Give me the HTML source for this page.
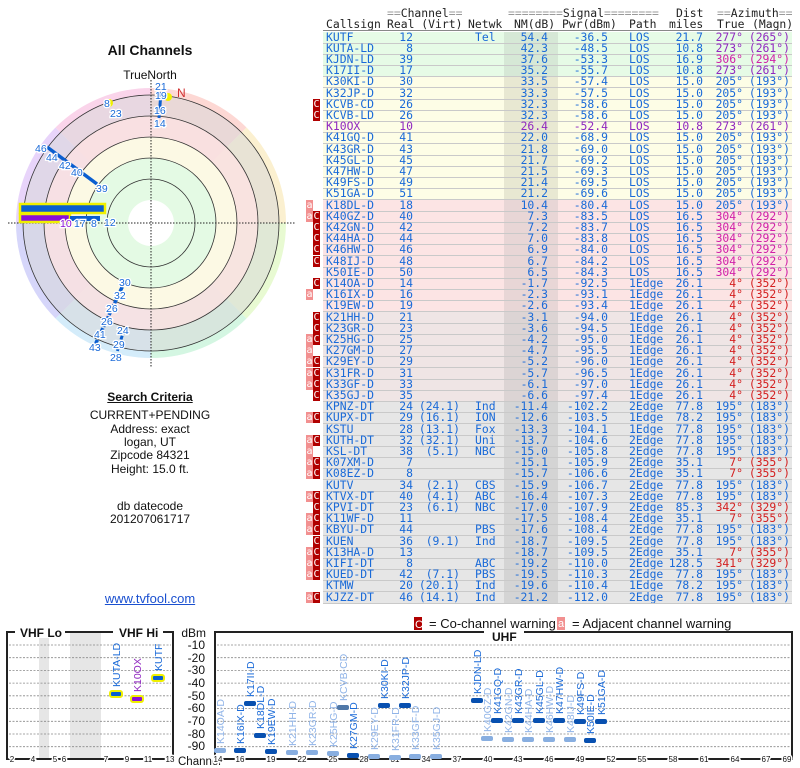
<!DOCTYPE html>
<html><head><meta charset="utf-8"><style>
body{margin:0;width:800px;height:768px;background:#fff;position:relative;overflow:hidden;font-family:"Liberation Sans",sans-serif}
.abs{position:absolute}
.band{position:absolute;left:323px;width:469px}
.r{position:absolute;left:0;width:800px;height:11.2px;font:11.4px/11.4px "DejaVu Sans Mono",monospace;color:#1a6ad8}
.r::after{content:"";position:absolute;left:323px;width:469px;bottom:-1px;height:1px;background:#c9c9c9}
.r span{position:absolute;top:0;white-space:pre}
.a{left:326px}.b{right:387px}.v{right:340px}.n{left:475px}.m{right:252px}.p{right:192px}.q{left:629px}.d{right:97px}.t{right:57px}.g{right:10px}
.r span.C{left:313px;width:7px;height:11px;background:#b00000;color:#fff;font-size:10px;text-align:center;top:0}
.r span.A{left:306px;width:7px;height:11px;background:#f29090;color:#fff;font-size:10px;text-align:center;top:0}
.pu{color:#9028c0}.mg{color:#d020a8}.rd{color:#d42020}
.h{position:absolute;font:11.4px/11.4px "DejaVu Sans Mono",monospace;color:#222;white-space:pre}
.h i{color:#999;font-style:normal}
.lt{position:absolute;left:0;width:300px;text-align:center;font-size:12px;color:#111}
</style></head><body>
<svg class="abs" style="left:0;top:0" width="800" height="768" xmlns="http://www.w3.org/2000/svg">
<g>
<path d="M151,223 L151,88 A135,135 0 0 1 246.5,127.5 Z" fill="#fdd8d4"/>
<path d="M151,223 L246.5,127.5 A135,135 0 0 1 286,223 Z" fill="#fbf0d0"/>
<path d="M151,223 L286,223 A135,135 0 0 1 246.5,318.5 Z" fill="#e8fad2"/>
<path d="M151,223 L246.5,318.5 A135,135 0 0 1 151,358 Z" fill="#d4f6e2"/>
<path d="M151,223 L151,358 A135,135 0 0 1 55.5,318.5 Z" fill="#d4ecfa"/>
<path d="M151,223 L55.5,318.5 A135,135 0 0 1 16,223 Z" fill="#d6d6fa"/>
<path d="M151,223 L16,223 A135,135 0 0 1 55.5,127.5 Z" fill="#e8d4fa"/>
<path d="M151,223 L55.5,127.5 A135,135 0 0 1 151,88 Z" fill="#fad4ea"/>
<circle cx="151" cy="223" r="128" fill="#d8d8d8" fill-opacity="0.55" stroke="#333" stroke-width="0.8"/>
<circle cx="151" cy="223" r="107" fill="#fde2e2" fill-opacity="0.8" stroke="#333" stroke-width="0.8"/>
<circle cx="151" cy="223" r="86" fill="#fdfde4" fill-opacity="0.85" stroke="#333" stroke-width="0.8"/>
<circle cx="151" cy="223" r="65" fill="#e4fae4" stroke="#333" stroke-width="0.8"/>
<circle cx="151" cy="223" r="44" fill="#e4fae4" stroke="#333" stroke-width="0.8"/>
<circle cx="151" cy="223" r="23" fill="#fff"/>
<line x1="8" y1="223" x2="296" y2="223" stroke="#222" stroke-width="1" stroke-dasharray="1.5,1.5"/>
<line x1="151" y1="80" x2="151" y2="368" stroke="#222" stroke-width="1" stroke-dasharray="1.5,1.5"/>
<rect x="20" y="204" width="85" height="9" fill="#0a5ed0" stroke="#f0f000" stroke-width="2.5"/>
<rect x="20" y="214" width="50" height="8" fill="#8a10d8" stroke="#f0f000" stroke-width="2.5"/>
<rect x="70" y="216" width="30" height="5" fill="#0a5ed0"/>
<line x1="47" y1="147" x2="97" y2="184" stroke="#0a5ed0" stroke-width="3.5"/>
<line x1="125" y1="281" x2="95" y2="345" stroke="#0a5ed0" stroke-width="3.5" stroke-dasharray="5,1.5"/>
<line x1="124" y1="330" x2="117" y2="352" stroke="#0a5ed0" stroke-width="3" stroke-dasharray="4,2"/>
<line x1="161" y1="92" x2="159" y2="118" stroke="#0a5ed0" stroke-width="3"/>
<circle cx="168" cy="97" r="4" fill="#f0f000"/>
<circle cx="109" cy="103" r="4" fill="#f0f000"/>
<g font-family="Liberation Sans,sans-serif" font-size="10.5" fill="#1a6ad8" stroke="#fff" stroke-width="2.5" paint-order="stroke">
<text x="155" y="90">21</text><text x="155" y="99">19</text><text x="154" y="114">16</text><text x="154" y="127">14</text>
<text x="104" y="107">8</text><text x="110" y="117">23</text>
<text x="35" y="152">46</text><text x="46" y="161">44</text><text x="59" y="169">42</text><text x="71" y="176">40</text><text x="96" y="192">39</text>
<text x="104" y="226">12</text><text x="91" y="227">8</text><text x="74" y="227">17</text><text x="60" y="227" fill="#8a10d8">10</text>
<text x="119" y="286">30</text><text x="114" y="299">32</text><text x="106" y="312">26</text><text x="101" y="325">26</text><text x="94" y="338">41</text><text x="89" y="351">43</text>
<text x="117" y="334">24</text><text x="113" y="348">29</text><text x="110" y="361">28</text>
</g>
<text x="177" y="97" font-family="Liberation Sans,sans-serif" font-size="12" fill="#d03030">N</text>
</g>
<g font-family="Liberation Sans,sans-serif">
<rect x="39" y="632" width="10" height="126" fill="#e6e6e6"/>
<rect x="70" y="632" width="31" height="126" fill="#e6e6e6"/>
<g stroke="#888" stroke-width="0.8" stroke-dasharray="2,1.5">
<path d="M9 645H171M9 657.7H171M9 670.4H171M9 683.1H171M9 695.8H171M9 708.6H171M9 721.3H171M9 734H171M9 746.7H171"/>
<path d="M217 645H790M217 657.7H790M217 670.4H790M217 683.1H790M217 695.8H790M217 708.6H790M217 721.3H790M217 734H790M217 746.7H790"/>
</g>
<rect x="7" y="632" width="166" height="127" fill="none" stroke="#222" stroke-width="2"/>
<rect x="215" y="632" width="577" height="127" fill="none" stroke="#222" stroke-width="2"/>
<rect x="15" y="626" width="50" height="12" fill="#fff"/><rect x="113" y="626" width="50" height="12" fill="#fff"/><rect x="484" y="626" width="40" height="12" fill="#fff"/>
<g font-size="12" font-weight="bold" fill="#111"><text x="20" y="637">VHF Lo</text><text x="119" y="637">VHF Hi</text><text x="492" y="641">UHF</text></g>
<g font-size="12" fill="#111" text-anchor="end"><text x="206" y="637">dBm</text><text x="205" y="649">-10</text><text x="205" y="662">-20</text><text x="205" y="674">-30</text><text x="205" y="687">-40</text><text x="205" y="700">-50</text><text x="205" y="712">-60</text><text x="205" y="725">-70</text><text x="205" y="738">-80</text><text x="205" y="750">-90</text></g>
<text x="178" y="765" font-size="11.5" fill="#111">Channel</text>
<g font-size="8" fill="#111" text-anchor="middle" stroke="#fff" stroke-width="3" paint-order="stroke">
<text x="12" y="762">2</text><text x="33" y="762">4</text><text x="55" y="762">5</text><text x="64" y="762">6</text><text x="106" y="762">7</text><text x="127" y="762">9</text><text x="148" y="762">11</text><text x="170" y="762">13</text>
<text x="218" y="762">14</text><text x="240" y="762">16</text><text x="271" y="762">19</text><text x="302" y="762">22</text><text x="333" y="762">25</text><text x="364" y="762">28</text><text x="395" y="762">31</text><text x="426" y="762">34</text><text x="457" y="762">37</text><text x="488" y="762">40</text><text x="518" y="762">43</text><text x="549" y="762">46</text><text x="580" y="762">49</text><text x="611" y="762">52</text><text x="642" y="762">55</text><text x="673" y="762">58</text><text x="704" y="762">61</text><text x="735" y="762">64</text><text x="766" y="762">67</text><text x="787" y="762">69</text>
</g>
<rect x="110" y="691" width="12" height="6" rx="2" fill="#0a5ed0" stroke="#f0f000" stroke-width="2"/>
<rect x="131" y="696" width="12" height="6" rx="2" fill="#8a10d8" stroke="#f0f000" stroke-width="2"/>
<rect x="152" y="675" width="12" height="6" rx="2" fill="#0a5ed0" stroke="#f0f000" stroke-width="2"/>
<g font-size="10.5">
<text transform="translate(120,687) rotate(-90)" fill="#1a6ad8">KUTA-LD</text>
<text transform="translate(141,692) rotate(-90)" fill="#9028c0">K10OX</text>
<text transform="translate(162,671) rotate(-90)" fill="#1a6ad8">KUTF</text>
</g>
<g fill="#0850b0">
<rect x="234" y="748" width="12" height="5" rx="2"/><rect x="244" y="701" width="12" height="5" rx="2"/><rect x="254" y="733" width="12" height="5" rx="2"/><rect x="265" y="749" width="12" height="5" rx="2"/><rect x="347" y="753" width="12" height="5" rx="2"/><rect x="378" y="703" width="12" height="5" rx="2"/><rect x="399" y="703" width="12" height="5" rx="2"/><rect x="471" y="698" width="12" height="5" rx="2"/><rect x="491" y="718" width="12" height="5" rx="2"/><rect x="512" y="718" width="12" height="5" rx="2"/><rect x="533" y="718" width="12" height="5" rx="2"/><rect x="553" y="718" width="12" height="5" rx="2"/><rect x="574" y="719" width="12" height="5" rx="2"/><rect x="584" y="738" width="12" height="5" rx="2"/><rect x="595" y="719" width="12" height="5" rx="2"/>
<rect x="337" y="705" width="12" height="5" rx="2" fill="#5078a8"/>
</g>
<g fill="#88aee0">
<rect x="214" y="748" width="12" height="5" rx="2"/><rect x="286" y="750" width="12" height="5" rx="2"/><rect x="306" y="750" width="12" height="5" rx="2"/><rect x="327" y="751" width="12" height="5" rx="2"/><rect x="368" y="754" width="12" height="5" rx="2"/><rect x="389" y="755" width="12" height="5" rx="2"/><rect x="409" y="754" width="12" height="5" rx="2"/><rect x="430" y="754" width="12" height="5" rx="2"/><rect x="481" y="736" width="12" height="5" rx="2"/><rect x="502" y="737" width="12" height="5" rx="2"/><rect x="522" y="737" width="12" height="5" rx="2"/><rect x="543" y="737" width="12" height="5" rx="2"/><rect x="564" y="737" width="12" height="5" rx="2"/>
</g>
<g font-size="10.5" fill="#1a6ad8">
<text transform="translate(244,744) rotate(-90)">K16IX-D</text>
<text transform="translate(254,697) rotate(-90)">K17II-D</text>
<text transform="translate(264,729) rotate(-90)">K18DL-D</text>
<text transform="translate(275,745) rotate(-90)">K19EW-D</text>
<text transform="translate(357,749) rotate(-90)">K27GM-D</text>
<text transform="translate(388,699) rotate(-90)">K30KI-D</text>
<text transform="translate(409,699) rotate(-90)">K32JP-D</text>
<text transform="translate(481,694) rotate(-90)">KJDN-LD</text>
<text transform="translate(501,714) rotate(-90)">K41GQ-D</text>
<text transform="translate(522,714) rotate(-90)">K43GR-D</text>
<text transform="translate(543,714) rotate(-90)">K45GL-D</text>
<text transform="translate(563,714) rotate(-90)">K47HW-D</text>
<text transform="translate(584,715) rotate(-90)">K49FS-D</text>
<text transform="translate(594,734) rotate(-90)">K50IE-D</text>
<text transform="translate(605,715) rotate(-90)">K51GA-D</text>
</g>
<g font-size="10.5" fill="#90b4e8">
<text transform="translate(224,744) rotate(-90)">K14OA-D</text>
<text transform="translate(296,746) rotate(-90)">K21HH-D</text>
<text transform="translate(316,746) rotate(-90)">K23GR-D</text>
<text transform="translate(337,747) rotate(-90)">K25HG-D</text>
<text transform="translate(347,701) rotate(-90)">KCVB-CD</text>
<text transform="translate(378,750) rotate(-90)">K29EY-D</text>
<text transform="translate(399,751) rotate(-90)">K31FR-D</text>
<text transform="translate(419,750) rotate(-90)">K33GF-D</text>
<text transform="translate(440,750) rotate(-90)">K35GJ-D</text>
<text transform="translate(491,732) rotate(-90)">K40GZ-D</text>
<text transform="translate(512,733) rotate(-90)">K42GN-D</text>
<text transform="translate(532,733) rotate(-90)">K44HA-D</text>
<text transform="translate(553,733) rotate(-90)">K46HW-D</text>
<text transform="translate(574,733) rotate(-90)">K48IJ-D</text>
</g>
<rect x="414" y="617" width="8" height="13" fill="#b00000"/><text x="415" y="628" font-size="11" fill="#fff">C</text>
<text x="429" y="628" font-size="13" fill="#111">= Co-channel warning</text>
<rect x="557" y="617" width="8" height="13" fill="#f29090"/><text x="558" y="627" font-size="11" fill="#fff">a</text>
<text x="572" y="628" font-size="13" fill="#111">= Adjacent channel warning</text>
</g>
</svg>

<div class="lt" style="top:42px;font-size:14px;font-weight:bold">All Channels</div>
<div class="lt" style="top:68px">TrueNorth</div>
<div class="lt" style="top:390px;font-weight:bold;text-decoration:underline">Search Criteria</div>
<div class="lt" style="top:408px">CURRENT+PENDING</div>
<div class="lt" style="top:422px">Address: exact</div>
<div class="lt" style="top:435px">logan, UT</div>
<div class="lt" style="top:448px">Zipcode 84321</div>
<div class="lt" style="top:462px">Height: 15.0 ft.</div>
<div class="lt" style="top:499px">db datecode</div>
<div class="lt" style="top:512px">201207061717</div>
<div class="lt" style="top:591px;color:#1a50d0;text-decoration:underline;font-size:13px">www.tvfool.com</div>

<div class="band" style="top:31.5px;height:44.8px;background:#e6fbe6"></div>
<div class="band" style="top:76.3px;height:123.2px;background:#fdfde6"></div>
<div class="band" style="top:199.5px;height:112px;background:#fce4e4"></div>
<div class="band" style="top:311.5px;height:89.6px;background:#efe5e5"></div>
<div class="band" style="top:401.1px;height:201.6px;background:#e6e6e6"></div>
<div class="abs" style="left:504px;width:54px;top:31.5px;height:44.8px;background:#d6e8d6"></div>
<div class="abs" style="left:504px;width:54px;top:76.3px;height:123.2px;background:#e8e8d2"></div>
<div class="abs" style="left:504px;width:54px;top:199.5px;height:112px;background:#e8d6d6"></div>
<div class="abs" style="left:504px;width:54px;top:311.5px;height:89.6px;background:#dcd4d4"></div>
<div class="abs" style="left:504px;width:54px;top:401.1px;height:201.6px;background:#d4d4d4"></div>

<div class="h" style="left:387px;top:8px"><i>==</i>Channel<i>==</i></div>
<div class="h" style="left:508px;top:8px"><i>========</i>Signal<i>========</i></div>
<div class="h" style="left:676px;top:8px">Dist</div>
<div class="h" style="left:717px;top:8px"><i>==</i>Azimuth<i>==</i></div>
<div class="h" style="left:326px;top:19px">Callsign</div>
<div class="h" style="left:387px;top:19px">Real (Virt)</div>
<div class="h" style="left:468px;top:19px">Netwk</div>
<div class="h" style="left:514px;top:19px">NM(dB)</div>
<div class="h" style="left:562px;top:19px">Pwr(dBm)</div>
<div class="h" style="left:629px;top:19px">Path</div>
<div class="h" style="left:669px;top:19px">miles</div>
<div class="h" style="left:717px;top:19px">True</div>
<div class="h" style="left:752px;top:19px">(Magn)</div>
<div class="abs" style="left:323px;top:30px;width:469px;height:1px;background:#888"></div>

<div class="r" style="top:31.5px"><span class="a">KUTF</span><span class="b">12</span><span class="n">Tel</span><span class="m">54.4</span><span class="p">-36.5</span><span class="q">LOS</span><span class="d">21.7</span><span class="t pu">277°</span><span class="g pu">(265°)</span></div>
<div class="r" style="top:42.7px"><span class="a">KUTA-LD</span><span class="b">8</span><span class="m">42.3</span><span class="p">-48.5</span><span class="q">LOS</span><span class="d">10.8</span><span class="t pu">273°</span><span class="g pu">(261°)</span></div>
<div class="r" style="top:53.9px"><span class="a">KJDN-LD</span><span class="b">39</span><span class="m">37.6</span><span class="p">-53.3</span><span class="q">LOS</span><span class="d">16.9</span><span class="t mg">306°</span><span class="g mg">(294°)</span></div>
<div class="r" style="top:65.1px"><span class="a">K17II-D</span><span class="b">17</span><span class="m">35.2</span><span class="p">-55.7</span><span class="q">LOS</span><span class="d">10.8</span><span class="t pu">273°</span><span class="g pu">(261°)</span></div>
<div class="r" style="top:76.3px"><span class="a">K30KI-D</span><span class="b">30</span><span class="m">33.5</span><span class="p">-57.4</span><span class="q">LOS</span><span class="d">15.0</span><span class="t">205°</span><span class="g">(193°)</span></div>
<div class="r" style="top:87.5px"><span class="a">K32JP-D</span><span class="b">32</span><span class="m">33.3</span><span class="p">-57.5</span><span class="q">LOS</span><span class="d">15.0</span><span class="t">205°</span><span class="g">(193°)</span></div>
<div class="r" style="top:98.7px"><span class="C">C</span><span class="a">KCVB-CD</span><span class="b">26</span><span class="m">32.3</span><span class="p">-58.6</span><span class="q">LOS</span><span class="d">15.0</span><span class="t">205°</span><span class="g">(193°)</span></div>
<div class="r" style="top:109.9px"><span class="C">C</span><span class="a">KCVB-LD</span><span class="b">26</span><span class="m">32.3</span><span class="p">-58.6</span><span class="q">LOS</span><span class="d">15.0</span><span class="t">205°</span><span class="g">(193°)</span></div>
<div class="r pu" style="top:121.1px"><span class="a">K10OX</span><span class="b">10</span><span class="m">26.4</span><span class="p">-52.4</span><span class="q">LOS</span><span class="d">10.8</span><span class="t">273°</span><span class="g">(261°)</span></div>
<div class="r" style="top:132.3px"><span class="a">K41GQ-D</span><span class="b">41</span><span class="m">22.0</span><span class="p">-68.9</span><span class="q">LOS</span><span class="d">15.0</span><span class="t">205°</span><span class="g">(193°)</span></div>
<div class="r" style="top:143.5px"><span class="a">K43GR-D</span><span class="b">43</span><span class="m">21.8</span><span class="p">-69.0</span><span class="q">LOS</span><span class="d">15.0</span><span class="t">205°</span><span class="g">(193°)</span></div>
<div class="r" style="top:154.7px"><span class="a">K45GL-D</span><span class="b">45</span><span class="m">21.7</span><span class="p">-69.2</span><span class="q">LOS</span><span class="d">15.0</span><span class="t">205°</span><span class="g">(193°)</span></div>
<div class="r" style="top:165.9px"><span class="a">K47HW-D</span><span class="b">47</span><span class="m">21.5</span><span class="p">-69.3</span><span class="q">LOS</span><span class="d">15.0</span><span class="t">205°</span><span class="g">(193°)</span></div>
<div class="r" style="top:177.1px"><span class="a">K49FS-D</span><span class="b">49</span><span class="m">21.4</span><span class="p">-69.5</span><span class="q">LOS</span><span class="d">15.0</span><span class="t">205°</span><span class="g">(193°)</span></div>
<div class="r" style="top:188.3px"><span class="a">K51GA-D</span><span class="b">51</span><span class="m">21.2</span><span class="p">-69.6</span><span class="q">LOS</span><span class="d">15.0</span><span class="t">205°</span><span class="g">(193°)</span></div>
<div class="r" style="top:199.5px"><span class="A">a</span><span class="a">K18DL-D</span><span class="b">18</span><span class="m">10.4</span><span class="p">-80.4</span><span class="q">LOS</span><span class="d">15.0</span><span class="t">205°</span><span class="g">(193°)</span></div>
<div class="r" style="top:210.7px"><span class="A">a</span><span class="C">C</span><span class="a">K40GZ-D</span><span class="b">40</span><span class="m">7.3</span><span class="p">-83.5</span><span class="q">LOS</span><span class="d">16.5</span><span class="t mg">304°</span><span class="g mg">(292°)</span></div>
<div class="r" style="top:221.9px"><span class="C">C</span><span class="a">K42GN-D</span><span class="b">42</span><span class="m">7.2</span><span class="p">-83.7</span><span class="q">LOS</span><span class="d">16.5</span><span class="t mg">304°</span><span class="g mg">(292°)</span></div>
<div class="r" style="top:233.1px"><span class="C">C</span><span class="a">K44HA-D</span><span class="b">44</span><span class="m">7.0</span><span class="p">-83.8</span><span class="q">LOS</span><span class="d">16.5</span><span class="t mg">304°</span><span class="g mg">(292°)</span></div>
<div class="r" style="top:244.3px"><span class="C">C</span><span class="a">K46HW-D</span><span class="b">46</span><span class="m">6.9</span><span class="p">-84.0</span><span class="q">LOS</span><span class="d">16.5</span><span class="t mg">304°</span><span class="g mg">(292°)</span></div>
<div class="r" style="top:255.5px"><span class="C">C</span><span class="a">K48IJ-D</span><span class="b">48</span><span class="m">6.7</span><span class="p">-84.2</span><span class="q">LOS</span><span class="d">16.5</span><span class="t mg">304°</span><span class="g mg">(292°)</span></div>
<div class="r" style="top:266.7px"><span class="a">K50IE-D</span><span class="b">50</span><span class="m">6.5</span><span class="p">-84.3</span><span class="q">LOS</span><span class="d">16.5</span><span class="t mg">304°</span><span class="g mg">(292°)</span></div>
<div class="r" style="top:277.9px"><span class="C">C</span><span class="a">K14OA-D</span><span class="b">14</span><span class="m">-1.7</span><span class="p">-92.5</span><span class="q">1Edge</span><span class="d">26.1</span><span class="t rd">4°</span><span class="g rd">(352°)</span></div>
<div class="r" style="top:289.1px"><span class="A">a</span><span class="a">K16IX-D</span><span class="b">16</span><span class="m">-2.3</span><span class="p">-93.1</span><span class="q">1Edge</span><span class="d">26.1</span><span class="t rd">4°</span><span class="g rd">(352°)</span></div>
<div class="r" style="top:300.3px"><span class="a">K19EW-D</span><span class="b">19</span><span class="m">-2.6</span><span class="p">-93.4</span><span class="q">1Edge</span><span class="d">26.1</span><span class="t rd">4°</span><span class="g rd">(352°)</span></div>
<div class="r" style="top:311.5px"><span class="C">C</span><span class="a">K21HH-D</span><span class="b">21</span><span class="m">-3.1</span><span class="p">-94.0</span><span class="q">1Edge</span><span class="d">26.1</span><span class="t rd">4°</span><span class="g rd">(352°)</span></div>
<div class="r" style="top:322.7px"><span class="C">C</span><span class="a">K23GR-D</span><span class="b">23</span><span class="m">-3.6</span><span class="p">-94.5</span><span class="q">1Edge</span><span class="d">26.1</span><span class="t rd">4°</span><span class="g rd">(352°)</span></div>
<div class="r" style="top:333.9px"><span class="A">a</span><span class="C">C</span><span class="a">K25HG-D</span><span class="b">25</span><span class="m">-4.2</span><span class="p">-95.0</span><span class="q">1Edge</span><span class="d">26.1</span><span class="t rd">4°</span><span class="g rd">(352°)</span></div>
<div class="r" style="top:345.1px"><span class="A">a</span><span class="a">K27GM-D</span><span class="b">27</span><span class="m">-4.7</span><span class="p">-95.5</span><span class="q">1Edge</span><span class="d">26.1</span><span class="t rd">4°</span><span class="g rd">(352°)</span></div>
<div class="r" style="top:356.3px"><span class="A">a</span><span class="C">C</span><span class="a">K29EY-D</span><span class="b">29</span><span class="m">-5.2</span><span class="p">-96.0</span><span class="q">1Edge</span><span class="d">26.1</span><span class="t rd">4°</span><span class="g rd">(352°)</span></div>
<div class="r" style="top:367.5px"><span class="A">a</span><span class="C">C</span><span class="a">K31FR-D</span><span class="b">31</span><span class="m">-5.7</span><span class="p">-96.5</span><span class="q">1Edge</span><span class="d">26.1</span><span class="t rd">4°</span><span class="g rd">(352°)</span></div>
<div class="r" style="top:378.7px"><span class="A">a</span><span class="C">C</span><span class="a">K33GF-D</span><span class="b">33</span><span class="m">-6.1</span><span class="p">-97.0</span><span class="q">1Edge</span><span class="d">26.1</span><span class="t rd">4°</span><span class="g rd">(352°)</span></div>
<div class="r" style="top:389.9px"><span class="C">C</span><span class="a">K35GJ-D</span><span class="b">35</span><span class="m">-6.6</span><span class="p">-97.4</span><span class="q">1Edge</span><span class="d">26.1</span><span class="t rd">4°</span><span class="g rd">(352°)</span></div>
<div class="r" style="top:401.1px"><span class="a">KPNZ-DT</span><span class="b">24</span><span class="v">(24.1)</span><span class="n">Ind</span><span class="m">-11.4</span><span class="p">-102.2</span><span class="q">2Edge</span><span class="d">77.8</span><span class="t">195°</span><span class="g">(183°)</span></div>
<div class="r" style="top:412.3px"><span class="A">a</span><span class="C">C</span><span class="a">KUPX-DT</span><span class="b">29</span><span class="v">(16.1)</span><span class="n">ION</span><span class="m">-12.6</span><span class="p">-103.5</span><span class="q">1Edge</span><span class="d">78.2</span><span class="t">195°</span><span class="g">(183°)</span></div>
<div class="r" style="top:423.5px"><span class="a">KSTU</span><span class="b">28</span><span class="v">(13.1)</span><span class="n">Fox</span><span class="m">-13.3</span><span class="p">-104.1</span><span class="q">1Edge</span><span class="d">77.8</span><span class="t">195°</span><span class="g">(183°)</span></div>
<div class="r" style="top:434.7px"><span class="A">a</span><span class="C">C</span><span class="a">KUTH-DT</span><span class="b">32</span><span class="v">(32.1)</span><span class="n">Uni</span><span class="m">-13.7</span><span class="p">-104.6</span><span class="q">2Edge</span><span class="d">77.8</span><span class="t">195°</span><span class="g">(183°)</span></div>
<div class="r" style="top:445.9px"><span class="A">a</span><span class="a">KSL-DT</span><span class="b">38</span><span class="v">(5.1)</span><span class="n">NBC</span><span class="m">-15.0</span><span class="p">-105.8</span><span class="q">2Edge</span><span class="d">77.8</span><span class="t">195°</span><span class="g">(183°)</span></div>
<div class="r" style="top:457.1px"><span class="A">a</span><span class="C">C</span><span class="a">K07XM-D</span><span class="b">7</span><span class="m">-15.1</span><span class="p">-105.9</span><span class="q">2Edge</span><span class="d">35.1</span><span class="t rd">7°</span><span class="g rd">(355°)</span></div>
<div class="r" style="top:468.3px"><span class="A">a</span><span class="C">C</span><span class="a">K08EZ-D</span><span class="b">8</span><span class="m">-15.7</span><span class="p">-106.6</span><span class="q">2Edge</span><span class="d">35.1</span><span class="t rd">7°</span><span class="g rd">(355°)</span></div>
<div class="r" style="top:479.5px"><span class="a">KUTV</span><span class="b">34</span><span class="v">(2.1)</span><span class="n">CBS</span><span class="m">-15.9</span><span class="p">-106.7</span><span class="q">2Edge</span><span class="d">77.8</span><span class="t">195°</span><span class="g">(183°)</span></div>
<div class="r" style="top:490.7px"><span class="A">a</span><span class="C">C</span><span class="a">KTVX-DT</span><span class="b">40</span><span class="v">(4.1)</span><span class="n">ABC</span><span class="m">-16.4</span><span class="p">-107.3</span><span class="q">2Edge</span><span class="d">77.8</span><span class="t">195°</span><span class="g">(183°)</span></div>
<div class="r" style="top:501.9px"><span class="C">C</span><span class="a">KPVI-DT</span><span class="b">23</span><span class="v">(6.1)</span><span class="n">NBC</span><span class="m">-17.0</span><span class="p">-107.9</span><span class="q">2Edge</span><span class="d">85.3</span><span class="t rd">342°</span><span class="g rd">(329°)</span></div>
<div class="r" style="top:513.1px"><span class="A">a</span><span class="C">C</span><span class="a">K11WF-D</span><span class="b">11</span><span class="m">-17.5</span><span class="p">-108.4</span><span class="q">2Edge</span><span class="d">35.1</span><span class="t rd">7°</span><span class="g rd">(355°)</span></div>
<div class="r" style="top:524.3px"><span class="A">a</span><span class="C">C</span><span class="a">KBYU-DT</span><span class="b">44</span><span class="n">PBS</span><span class="m">-17.6</span><span class="p">-108.4</span><span class="q">2Edge</span><span class="d">77.8</span><span class="t">195°</span><span class="g">(183°)</span></div>
<div class="r" style="top:535.5px"><span class="C">C</span><span class="a">KUEN</span><span class="b">36</span><span class="v">(9.1)</span><span class="n">Ind</span><span class="m">-18.7</span><span class="p">-109.5</span><span class="q">2Edge</span><span class="d">77.8</span><span class="t">195°</span><span class="g">(183°)</span></div>
<div class="r" style="top:546.7px"><span class="A">a</span><span class="C">C</span><span class="a">K13HA-D</span><span class="b">13</span><span class="m">-18.7</span><span class="p">-109.5</span><span class="q">2Edge</span><span class="d">35.1</span><span class="t rd">7°</span><span class="g rd">(355°)</span></div>
<div class="r" style="top:557.9px"><span class="A">a</span><span class="C">C</span><span class="a">KIFI-DT</span><span class="b">8</span><span class="n">ABC</span><span class="m">-19.2</span><span class="p">-110.0</span><span class="q">2Edge</span><span class="d">128.5</span><span class="t rd">341°</span><span class="g rd">(329°)</span></div>
<div class="r" style="top:569.1px"><span class="A">a</span><span class="C">C</span><span class="a">KUED-DT</span><span class="b">42</span><span class="v">(7.1)</span><span class="n">PBS</span><span class="m">-19.5</span><span class="p">-110.3</span><span class="q">2Edge</span><span class="d">77.8</span><span class="t">195°</span><span class="g">(183°)</span></div>
<div class="r" style="top:580.3px"><span class="a">KTMW</span><span class="b">20</span><span class="v">(20.1)</span><span class="n">Ind</span><span class="m">-19.6</span><span class="p">-110.4</span><span class="q">1Edge</span><span class="d">78.2</span><span class="t">195°</span><span class="g">(183°)</span></div>
<div class="r" style="top:591.5px"><span class="A">a</span><span class="C">C</span><span class="a">KJZZ-DT</span><span class="b">46</span><span class="v">(14.1)</span><span class="n">Ind</span><span class="m">-21.2</span><span class="p">-112.0</span><span class="q">2Edge</span><span class="d">77.8</span><span class="t">195°</span><span class="g">(183°)</span></div>
</body></html>
